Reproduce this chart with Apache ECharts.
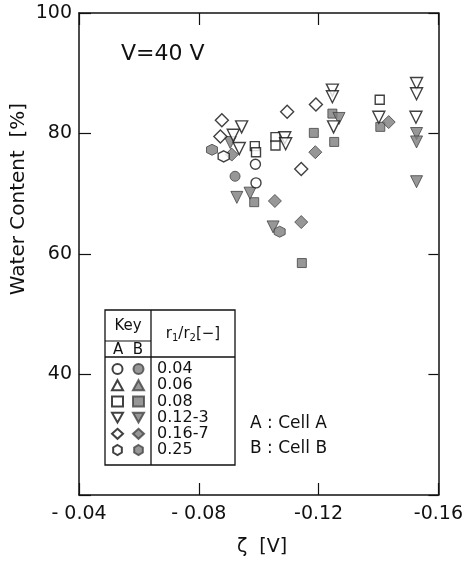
<!DOCTYPE html>
<html>
<head>
<meta charset="utf-8">
<script src="https://cdn.jsdelivr.net/npm/echarts@6/dist/echarts.min.js"></script>
<style>
  html, body { margin: 0; padding: 0; background: #fff; }
  #chart { width: 466px; height: 562px; }
</style>
</head>
<body>
<div id="chart"></div>
<script>
// ratio r1/r2 for each key row
var ratios = ['0.04', '0.06', '0.08', '0.12-3', '0.16-7', '0.25'];
var xTicks = [-0.16, -0.12, -0.08, -0.04];
var xTickLabels = ['-0.16', '-0.12', '- 0.08', '- 0.04'];
var yTickLabels = ['', '40', '60', '80', '100'];

// [zeta (V), water content (%)]
var cellA_004 = [[-0.0989, 74.9], [-0.0991, 71.8]];
var cellB_004 = [[-0.0921, 72.9]];
var cellA_006 = [];
var cellB_006 = [];
var cellA_008 = [[-0.0987, 77.9], [-0.0991, 76.9], [-0.1056, 79.4], [-0.1056, 78.0], [-0.1404, 85.6]];
var cellB_008 = [[-0.0985, 68.6], [-0.1184, 80.1], [-0.1252, 78.6], [-0.1144, 58.5], [-0.1406, 81.1], [-0.1246, 83.3]];
var cellA_012 = [[-0.0943, 81.1], [-0.0915, 79.7], [-0.0935, 77.5], [-0.1087, 79.3], [-0.1090, 78.3],
                 [-0.1246, 87.2], [-0.1246, 86.1], [-0.1250, 81.1], [-0.1401, 82.7],
                 [-0.1527, 88.3], [-0.1527, 86.6], [-0.1525, 82.7]];
var cellB_012 = [[-0.0927, 69.4], [-0.0971, 70.1], [-0.1048, 64.5], [-0.1527, 80.0], [-0.1527, 78.6],
                 [-0.1527, 72.0], [-0.0905, 78.5], [-0.1268, 82.5]];
var cellA_016 = [[-0.0877, 82.2], [-0.0872, 79.5], [-0.1095, 83.6], [-0.1191, 84.8], [-0.1142, 74.1]];
var cellB_016 = [[-0.1189, 76.9], [-0.1054, 68.8], [-0.1142, 65.3], [-0.0910, 76.5], [-0.1434, 81.9]];
var cellA_025 = [[-0.0883, 76.2]];
var cellB_025 = [[-0.0844, 77.3], [-0.1070, 63.7]];

var cellA = [cellA_004, cellA_006, cellA_008, cellA_012, cellA_016, cellA_025];
var cellB = [cellB_004, cellB_006, cellB_008, cellB_012, cellB_016, cellB_025];

var hexagon = 'path://M0,-10L8.66,-5L8.66,5L0,10L-8.66,5L-8.66,-5Z';
var downTri = 'path://M0,0L10,0L5,9Z';
var shapes = [
    {symbol: 'circle', size: 10, rotate: 0},
    {symbol: 'triangle', size: 12, rotate: 0},
    {symbol: 'rect', size: 9, rotate: 0},
    {symbol: 'triangle', size: 12, rotate: 180},
    {symbol: 'diamond', size: 13, rotate: 0},
    {symbol: hexagon, size: 11, rotate: 0}
];

var font = '"DejaVu Sans", sans-serif';
var series = [];
ratios.forEach(function (r, i) {
    series.push({
        name: 'B ' + r,
        type: 'scatter',
        data: cellB[i],
        symbol: shapes[i].symbol,
        symbolSize: shapes[i].size,
        symbolRotate: shapes[i].rotate,
        itemStyle: {color: '#7d7d7d', borderColor: '#444', borderWidth: 1},
        z: 2
    });
});
ratios.forEach(function (r, i) {
    series.push({
        name: 'A ' + r,
        type: 'scatter',
        data: cellA[i],
        symbol: shapes[i].symbol,
        symbolSize: shapes[i].size,
        symbolRotate: shapes[i].rotate,
        itemStyle: {color: '#fff', borderColor: '#111', borderWidth: 1.4},
        z: 3
    });
});

function keyItems(list) {
    return list.map(function (s) {
        return s.symbolRotate === 180 ? {name: s.name, icon: downTri} : {name: s.name};
    });
}

function xLabel(v) {
    var k = xTicks.map(function (t) { return t.toFixed(2); }).indexOf(v.toFixed(2));
    return k < 0 ? '' : xTickLabels[k];
}

var keyText = {fontSize: 16, lineHeight: 12, color: '#111', fontFamily: font, padding: [0, 0, 0, 8]};
var frame = {lineStyle: {color: '#111', width: 1.5}};
var option = {
    animation: false,
    backgroundColor: '#fff',
    grid: {left: 79, right: 23, top: 13, bottom: 67},
    xAxis: [
        {
            type: 'value', inverse: true, min: -0.16, max: -0.04, interval: 0.04,
            axisLine: frame, splitLine: {show: false},
            axisTick: {inside: true, length: 12, lineStyle: {color: '#111', width: 1.2}},
            axisLabel: {formatter: xLabel, margin: 10, fontSize: 19, color: '#111', fontFamily: font}
        },
        {
            type: 'value', position: 'top', inverse: true, min: -0.16, max: -0.04, interval: 0.04,
            axisLine: frame, splitLine: {show: false},
            axisTick: {inside: true, length: 12, lineStyle: {color: '#111', width: 1.2}},
            axisLabel: {show: false}
        }
    ],
    yAxis: [
        {
            type: 'value', min: 20, max: 100, interval: 20,
            axisLine: frame, splitLine: {show: false},
            axisTick: {inside: true, length: 12, lineStyle: {color: '#111', width: 1.2}},
            axisLabel: {
                formatter: function (v, i) { return yTickLabels[i] || ''; },
                margin: 7, fontSize: 19, color: '#111', fontFamily: font
            }
        },
        {
            type: 'value', position: 'right', min: 20, max: 100, interval: 20,
            axisLine: frame, splitLine: {show: false},
            axisTick: {inside: true, length: 10, lineStyle: {color: '#111', width: 1.2}},
            axisLabel: {show: false}
        }
    ],
    legend: [
        {
            data: keyItems(series.slice(6)),
            orient: 'vertical', left: 106, top: 356,
            itemWidth: 11, itemHeight: 10, itemGap: 0.2,
            selectedMode: false,
            formatter: function () { return ' '; },
            textStyle: keyText
        },
        {
            data: keyItems(series.slice(0, 6)),
            orient: 'vertical', left: 127, top: 356,
            itemWidth: 11, itemHeight: 10, itemGap: 0.2,
            selectedMode: false,
            formatter: function (name) { return name.slice(2); },
            textStyle: keyText
        }
    ],
    graphic: [
        {type: 'text', left: 121, top: 43, style: {text: 'V=40 V', fontSize: 22, fill: '#111', fontFamily: font}},
        {type: 'text', x: 19, y: 199, rotation: Math.PI / 2,
         style: {text: 'Water Content  [%]', fontSize: 20, fill: '#111', fontFamily: font, align: 'center', verticalAlign: 'middle'}},
        {type: 'text', x: 262, y: 547,
         style: {text: 'ζ  [V]', fontSize: 19, fill: '#111', fontFamily: font, align: 'center', verticalAlign: 'middle'}},
        {type: 'text', left: 250, top: 415, style: {text: 'A : Cell A', fontSize: 17, fill: '#111', fontFamily: font}},
        {type: 'text', left: 250, top: 440, style: {text: 'B : Cell B', fontSize: 17, fill: '#111', fontFamily: font}},
        // key table
        {type: 'rect', shape: {x: 105, y: 310, width: 130, height: 155}, style: {fill: 'none', stroke: '#111', lineWidth: 1.3}},
        {type: 'line', shape: {x1: 151, y1: 310, x2: 151, y2: 465}, style: {stroke: '#111', lineWidth: 1.3}},
        {type: 'line', shape: {x1: 105, y1: 357, x2: 235, y2: 357}, style: {stroke: '#111', lineWidth: 1.3}},
        {type: 'line', shape: {x1: 105, y1: 341, x2: 151, y2: 341}, style: {stroke: '#111', lineWidth: 1.1}},
        {type: 'text', x: 128, y: 326, style: {text: 'Key', fontSize: 15, fill: '#111', fontFamily: font, align: 'center', verticalAlign: 'middle'}},
        {type: 'text', x: 128, y: 350, style: {text: 'A  B', fontSize: 15, fill: '#111', fontFamily: font, align: 'center', verticalAlign: 'middle'}},
        {type: 'text', x: 193, y: 334, style: {
            text: 'r{s|1}/r{s|2}[−]', fontSize: 15, fill: '#111', fontFamily: font, align: 'center', verticalAlign: 'middle',
            rich: {s: {fontSize: 10, verticalAlign: 'bottom', padding: [8, 0, 0, 0], fontFamily: font}}
        }}
    ],
    series: series
};
echarts.init(document.getElementById('chart')).setOption(option);
</script>
</body>
</html>
